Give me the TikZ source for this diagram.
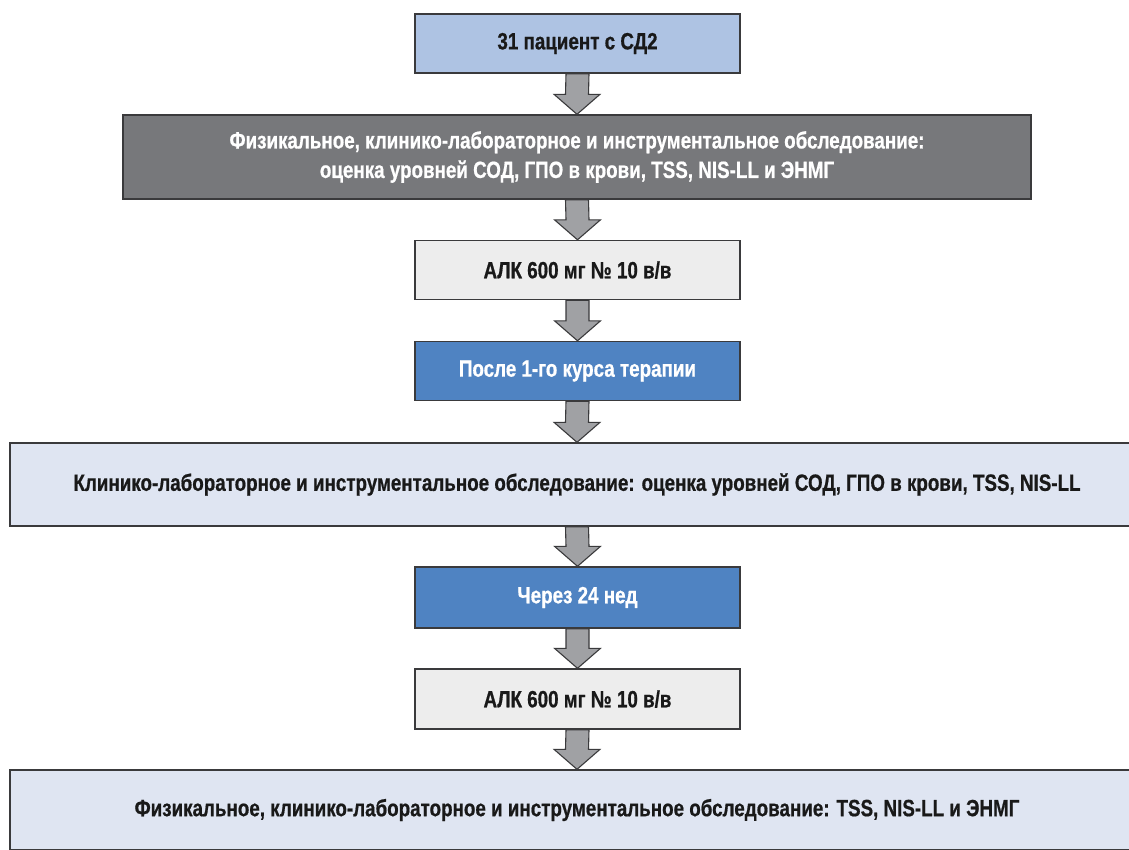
\documentclass[tikz,border=0pt]{standalone}
\usepackage{fontspec}
\setmainfont{Liberation Sans}[FakeStretch=0.8, BoldFeatures={FakeBold=0.7}]
\usetikzlibrary{calc}
\definecolor{topblue}{HTML}{AEC3E3}
\definecolor{darkgrey}{HTML}{77787B}
\definecolor{lightgrey}{HTML}{EDEDED}
\definecolor{midblue}{HTML}{4F83C2}
\definecolor{paleblue}{HTML}{DFE5F2}
\definecolor{arrowgrey}{HTML}{A0A1A4}
\definecolor{edge}{HTML}{3A3A3C}
\tikzset{
  box/.style={draw=edge, line width=1.4pt, inner sep=0pt, align=center,
    font=\fontsize{23.5}{29.5}\selectfont\bfseries, text=black!90},
  smallbox/.style={box, minimum width=325pt, minimum height=59pt},
  blockarrow/.style={draw=edge, fill=arrowgrey, line width=1.1pt, line join=miter},
}
\newcommand\barrow[2]{%
  \draw[blockarrow] ($(#1.south)+(-11.5,0)$) -- ($(#2.north)+(-11.5,-20)$)
    -- ($(#2.north)+(-23,-20)$) -- (#2.north) -- ($(#2.north)+(23,-20)$)
    -- ($(#2.north)+(11.5,-20)$) -- ($(#1.south)+(11.5,0)$) -- cycle;}
\begin{document}
\begin{tikzpicture}[x=1pt,y=-1pt]
\useasboundingbox (0,0) rectangle (1129,849);
\clip (0,0) rectangle (1129,849);
\fill[white] (0,0) rectangle (1129,849);
\node[smallbox, fill=topblue] (n1) at (577.5,43.5) {31 пациент с СД2};
\node[box, fill=darkgrey, text=white, minimum width=908pt, minimum height=84pt] (n2) at (577,157)
  {Физикальное, клинико-лабораторное и инструментальное обследование:\\оценка уровней СОД, ГПО в крови, TSS, NIS-LL и ЭНМГ};
\node[smallbox, fill=lightgrey] (n3) at (577.5,270) {АЛК 600 мг № 10 в/в};
\node[smallbox, fill=midblue, text=white] (n4) at (577.5,371) {После 1-го курса терапии};
\node[box, fill=paleblue, minimum width=1134pt, minimum height=83pt] (n5) at (577,484.5)
  {Клинико-лабораторное и инструментальное обследование: оценка уровней СОД, ГПО в крови, TSS, NIS-LL};
\node[smallbox, fill=midblue, text=white, minimum height=61pt] (n6) at (577.5,597.5) {Через 24 нед};
\node[smallbox, fill=lightgrey, minimum height=60pt] (n7) at (577.5,699) {АЛК 600 мг № 10 в/в};
\node[box, fill=paleblue, minimum width=1134pt, minimum height=80pt] (n8) at (577,810)
  {Физикальное, клинико-лабораторное и инструментальное обследование: TSS, NIS-LL и ЭНМГ};
\barrow{n1}{n2}
\barrow{n2}{n3}
\barrow{n3}{n4}
\barrow{n4}{n5}
\barrow{n5}{n6}
\barrow{n6}{n7}
\barrow{n7}{n8}
\end{tikzpicture}
\end{document}
